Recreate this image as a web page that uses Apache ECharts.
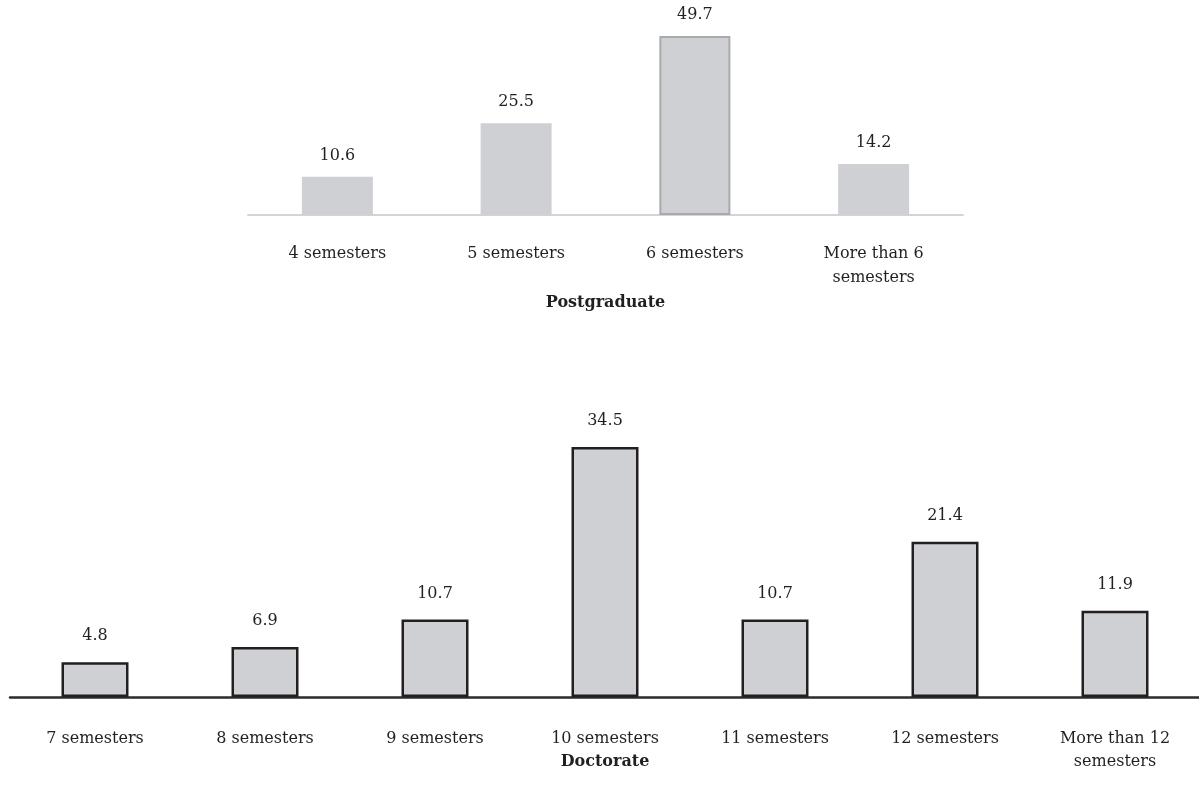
<!DOCTYPE html>
<html>
<head>
<meta charset="utf-8">
<script src="https://cdn.jsdelivr.net/npm/echarts@6/dist/echarts.min.js"></script>
<style>
  html, body { margin: 0; padding: 0; background: #ffffff; }
  #chart { width: 1199px; height: 786px; }
</style>
</head>
<body>
<div id="chart"></div>
<script>
// Duration of studies, share of respondents (%)
const postgradCategories = ['4 semesters', '5 semesters', '6 semesters', 'More than 6\nsemesters'];
const postgradValues = [10.6, 25.5, 49.7, 14.2];

const doctorateCategories = ['7 semesters', '8 semesters', '9 semesters', '10 semesters',
  '11 semesters', '12 semesters', 'More than 12\nsemesters'];
const doctorateValues = [4.8, 6.9, 10.7, 34.5, 10.7, 21.4, 11.9];

const FONT = '"DejaVu Serif", "Liberation Serif", serif';
const TEXT = '#231f20';
const BAR_FILL = '#cfd0d4';

const chart = echarts.init(document.getElementById('chart'), null, { renderer: 'canvas' });

// the modal postgraduate duration gets a faint outline
const postgradData = postgradValues.map((v, i) => (
  i === 2 ? { value: v, itemStyle: { borderColor: '#a9aaae', borderWidth: 2 } } : v
));

chart.setOption({
  backgroundColor: '#ffffff',
  animation: false,
  textStyle: { fontFamily: FONT, color: TEXT },
  grid: [
    { left: 248, width: 715, top: 35, height: 180, outerBoundsMode: 'none' },
    { left: 10, width: 1190, top: 407, height: 290, outerBoundsMode: 'none' }
  ],
  xAxis: [
    {
      gridIndex: 0,
      type: 'category',
      data: postgradCategories,
      axisTick: { show: false },
      axisLine: { lineStyle: { color: '#d3d4d8', width: 2 } },
      axisLabel: { fontFamily: FONT, fontSize: 16, color: TEXT, margin: 27, lineHeight: 24, interval: 0 },
      name: 'Postgraduate',
      nameLocation: 'middle',
      nameGap: 80,
      nameMoveOverlap: false,
      nameTextStyle: { fontFamily: FONT, fontSize: 16, fontWeight: 'bold', color: TEXT }
    },
    {
      gridIndex: 1,
      type: 'category',
      data: doctorateCategories,
      axisTick: { show: false },
      axisLine: { lineStyle: { color: '#2b2b2b', width: 2.5 } },
      axisLabel: { fontFamily: FONT, fontSize: 16, color: TEXT, margin: 30, lineHeight: 23, interval: 0 },
      name: 'Doctorate',
      nameLocation: 'middle',
      nameGap: 57,
      nameMoveOverlap: false,
      nameTextStyle: { fontFamily: FONT, fontSize: 16, fontWeight: 'bold', color: TEXT }
    }
  ],
  yAxis: [
    { gridIndex: 0, type: 'value', min: 0, max: 50, show: false, splitLine: { show: false } },
    { gridIndex: 1, type: 'value', min: 0, max: 40, show: false, splitLine: { show: false } }
  ],
  series: [
    {
      type: 'bar',
      xAxisIndex: 0,
      yAxisIndex: 0,
      data: postgradData,
      barWidth: 71,
      itemStyle: { color: BAR_FILL },
      label: { show: true, position: 'top', distance: 13, fontFamily: FONT, fontSize: 16, color: TEXT }
    },
    {
      type: 'bar',
      xAxisIndex: 1,
      yAxisIndex: 1,
      data: doctorateValues,
      barWidth: 67,
      itemStyle: { color: BAR_FILL, borderColor: '#231f20', borderWidth: 2.5 },
      label: { show: true, position: 'top', distance: 18, fontFamily: FONT, fontSize: 16, color: TEXT }
    }
  ]
});
</script>
</body>
</html>
